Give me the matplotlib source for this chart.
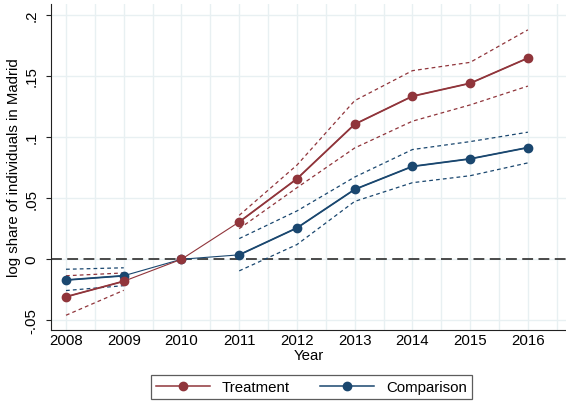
"""
Event-study style plot: log share of individuals in Madrid,
treatment vs comparison, with dashed confidence bands.
"""

import numpy as np
import matplotlib
matplotlib.use("Agg")
import matplotlib.pyplot as plt
from matplotlib.ticker import MultipleLocator

years = [2008, 2009, 2010, 2011, 2012, 2013, 2014, 2015, 2016]

treat = [-0.0307, -0.0180, 0.0, 0.0305, 0.0658, 0.1104, 0.1333, 0.1439, 0.1645]
treat_hi = [-0.0135, -0.0112, np.nan, 0.0359, 0.0770, 0.1297, 0.1542, 0.1610, 0.1876]
treat_lo = [-0.0458, -0.0254, np.nan, 0.0250, 0.0585, 0.0910, 0.1129, 0.1262, 0.1416]

comp = [-0.0170, -0.0135, 0.0, 0.0036, 0.0256, 0.0571, 0.0759, 0.0821, 0.0913]
comp_hi = [-0.0082, -0.0070, np.nan, 0.0169, 0.0395, 0.0672, 0.0897, 0.0962, 0.1039]
comp_lo = [-0.0256, -0.0216, np.nan, -0.0095, 0.0120, 0.0473, 0.0626, 0.0683, 0.0788]

yticks = [-0.05, 0, 0.05, 0.1, 0.15, 0.2]
ytick_labels = ["-.05", "0", ".05", ".1", ".15", ".2"]

RED = "#90353b"
BLUE = "#1a476f"
GRID = "#e8f0f2"

plt.rcParams["font.family"] = ["Liberation Sans", "DejaVu Sans"]
plt.rcParams["font.size"] = 10.8

fig = plt.figure(figsize=(5.66, 4.02), dpi=100)
ax = fig.add_axes([0.0896, 0.1765, 0.9104, 0.811])

x = np.array(years, dtype=float)


def thick_part(vals):
    v = np.array(vals, dtype=float)
    v[x == 2010] = np.nan
    return v


ax.axhline(0, color="#3c3c3c", lw=1.3, ls=(0, (6, 3)), zorder=2)

# confidence bands
for hi, lo, c in [(treat_hi, treat_lo, RED), (comp_hi, comp_lo, BLUE)]:
    ax.plot(x, hi, color=c, lw=0.9, ls=(0, (3, 2.5)), zorder=3)
    ax.plot(x, lo, color=c, lw=0.9, ls=(0, (3, 2.5)), zorder=3)

# point estimates: thin through the base year, thicker elsewhere
ax.plot(x, comp, color=BLUE, lw=0.8, zorder=4)
ax.plot(x, thick_part(comp), color=BLUE, lw=1.3, zorder=4)
ax.plot(x, comp, ls="none", marker="o", ms=6, color=BLUE, zorder=5)
ax.plot(x, treat, color=RED, lw=0.8, zorder=6)
ax.plot(x, thick_part(treat), color=RED, lw=1.3, zorder=6)
ax.plot(x, treat, ls="none", marker="o", ms=6, color=RED, zorder=7)

ax.set_xlim(2007.735, 2016.66)
ax.set_ylim(-0.0579, 0.2087)
ax.set_xticks(years)
ax.set_xticklabels([str(y) for y in years])
ax.xaxis.set_minor_locator(MultipleLocator(0.5))
ax.set_yticks(yticks)
ax.set_yticklabels(ytick_labels, rotation=90, va="center")

ax.grid(True, which="both", color=GRID, lw=1.0, zorder=0)
ax.set_axisbelow(True)
ax.tick_params(axis="y", which="major", direction="out", length=3.6, width=0.8,
               color="#222222", pad=5)
ax.tick_params(axis="x", which="major", length=0, pad=2)
ax.tick_params(axis="x", which="minor", length=0)

for s in ["top", "right"]:
    ax.spines[s].set_visible(False)
for s in ["left", "bottom"]:
    ax.spines[s].set_color("#222222")
    ax.spines[s].set_linewidth(0.8)

ax.set_xlabel("Year", labelpad=1)
ax.set_ylabel("log share of individuals in Madrid", va="center")
ax.yaxis.set_label_coords(-0.072, 0.5)

h1, = ax.plot([], [], color=RED, lw=1.1, marker="o", ms=6)
h2, = ax.plot([], [], color=BLUE, lw=1.1, marker="o", ms=6)
leg = fig.legend([h1, h2], ["Treatment", "Comparison"], ncol=2,
                 loc="center", bbox_to_anchor=(0.55, 0.035),
                 frameon=True, fancybox=False, edgecolor="#333333",
                 handlelength=3.6, columnspacing=2.0, borderpad=0.35,
                 handletextpad=0.8)
leg.get_frame().set_linewidth(0.9)

fig.savefig("out.png", dpi=100)
